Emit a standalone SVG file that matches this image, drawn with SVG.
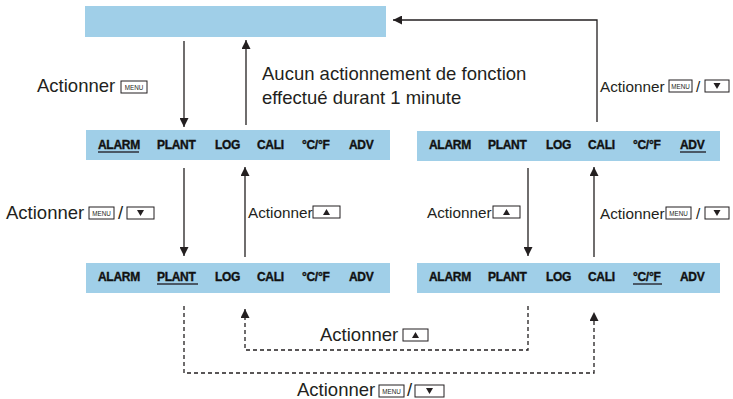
<svg xmlns="http://www.w3.org/2000/svg" width="733" height="399" viewBox="0 0 733 399">
<defs>
<style>
.bar{fill:#a0cfe8}
.m{font-family:"Liberation Sans",Arial,sans-serif;font-weight:bold;font-size:12px;letter-spacing:-0.3px;fill:#111;stroke:#111;stroke-width:0.35}
.ul{stroke:#4a5866;stroke-width:2}
.c{stroke:#231f20;stroke-width:1.3;fill:none}
.d{stroke:#231f20;stroke-width:1.3;fill:none;stroke-dasharray:4 3}
.t{font-family:"Liberation Sans",Arial,sans-serif;fill:#231f20}
.L{font-size:18.5px}
.S{font-size:15.3px}
.btn{fill:#fff;stroke:#231f20;stroke-width:1}
.mn{font-family:"Liberation Sans",Arial,sans-serif;font-size:6.3px;fill:#231f20}
.tri{fill:#231f20}
</style>
<marker id="ah" viewBox="0 0 10 10" refX="10" refY="5" markerWidth="9" markerHeight="9" markerUnits="userSpaceOnUse" orient="auto">
<path d="M0,0 L10,5 L0,10 z" fill="#231f20"/>
</marker>
</defs>
<rect width="733" height="399" fill="#fff"/>

<g id="top-display">
<rect class="bar" x="85" y="6" width="301" height="31"/>
</g>

<g id="menu-alarm">
<rect class="bar" x="86" y="130" width="304" height="30"/>
<text class="m" x="98" y="149">ALARM</text><text class="m" x="157" y="149">PLANT</text><text class="m" x="215" y="149">LOG</text><text class="m" x="257" y="149">CALI</text><text class="m" x="302" y="149">°C/°F</text><text class="m" x="349" y="149">ADV</text>
<line class="ul" x1="98" y1="152" x2="139" y2="152"/>
</g>

<g id="menu-adv">
<rect class="bar" x="417" y="131" width="303" height="30"/>
<text class="m" x="429" y="149">ALARM</text><text class="m" x="488" y="149">PLANT</text><text class="m" x="546" y="149">LOG</text><text class="m" x="588" y="149">CALI</text><text class="m" x="633" y="149">°C/°F</text><text class="m" x="680" y="149">ADV</text>
<line class="ul" x1="680" y1="152" x2="706" y2="152"/>
</g>

<g id="menu-plant">
<rect class="bar" x="86" y="263" width="304" height="30"/>
<text class="m" x="98" y="281">ALARM</text><text class="m" x="157" y="281">PLANT</text><text class="m" x="215" y="281">LOG</text><text class="m" x="257" y="281">CALI</text><text class="m" x="302" y="281">°C/°F</text><text class="m" x="349" y="281">ADV</text>
<line class="ul" x1="157" y1="284" x2="198" y2="284"/>
</g>

<g id="menu-cf">
<rect class="bar" x="417" y="263" width="303" height="30"/>
<text class="m" x="429" y="281">ALARM</text><text class="m" x="488" y="281">PLANT</text><text class="m" x="546" y="281">LOG</text><text class="m" x="588" y="281">CALI</text><text class="m" x="633" y="281">°C/°F</text><text class="m" x="680" y="281">ADV</text>
<line class="ul" x1="633" y1="284" x2="662" y2="284"/>
</g>

<g id="connectors">
<line class="c" x1="184" y1="41" x2="184" y2="127" marker-end="url(#ah)"/>
<line class="c" x1="246" y1="125" x2="246" y2="40" marker-end="url(#ah)"/>
<line class="c" x1="184" y1="168" x2="184" y2="256" marker-end="url(#ah)"/>
<line class="c" x1="245" y1="257" x2="245" y2="167" marker-end="url(#ah)"/>
<line class="c" x1="528" y1="168" x2="528" y2="256" marker-end="url(#ah)"/>
<line class="c" x1="594" y1="257" x2="594" y2="167" marker-end="url(#ah)"/>
<polyline class="c" points="597,122 597,20 393,20" marker-end="url(#ah)"/>
<polyline class="d" points="184,306 184,373 594,373 594,312" marker-end="url(#ah)"/>
<polyline class="d" points="528,306 528,350 245,350 245,309" marker-end="url(#ah)"/>
</g>

<g id="labels">
<text class="t L" x="37" y="92">Actionner</text>
<rect class="btn" x="121" y="81" width="26" height="12"/><text class="mn" x="134" y="89.5" text-anchor="middle">MENU</text>

<text class="t L" x="262" y="80">Aucun actionnement de fonction</text>
<text class="t L" x="262" y="104">effectué durant 1 minute</text>

<text class="t S" x="600" y="92">Actionner</text>
<rect class="btn" x="669" y="80" width="23" height="12"/><text class="mn" x="680.5" y="88.5" text-anchor="middle">MENU</text>
<text class="t S" x="696" y="92">/</text>
<rect class="btn" x="705" y="80" width="24" height="12"/><path class="tri" d="M713.5,83 h7 l-3.5,6 z"/>

<text class="t L" x="6" y="219">Actionner</text>
<rect class="btn" x="89" y="207" width="25" height="12"/><text class="mn" x="101.5" y="215.5" text-anchor="middle">MENU</text>
<text class="t L" x="118" y="219">/</text>
<rect class="btn" x="127" y="207" width="27" height="12"/><path class="tri" d="M137,210 h7 l-3.5,6 z"/>

<text class="t S" x="248" y="218">Actionner</text>
<rect class="btn" x="313" y="206" width="27" height="12"/><path class="tri" d="M323,215 h7 l-3.5,-6 z"/>

<text class="t S" x="427" y="218">Actionner</text>
<rect class="btn" x="493" y="206" width="27" height="12"/><path class="tri" d="M503,215 h7 l-3.5,-6 z"/>

<text class="t S" x="600" y="219">Actionner</text>
<rect class="btn" x="666" y="207" width="25" height="12"/><text class="mn" x="678.5" y="215.5" text-anchor="middle">MENU</text>
<text class="t S" x="696" y="219">/</text>
<rect class="btn" x="705" y="207" width="24" height="12"/><path class="tri" d="M713.5,210 h7 l-3.5,6 z"/>

<text class="t L" x="320" y="341">Actionner</text>
<rect class="btn" x="403" y="329" width="25" height="12"/><path class="tri" d="M412,338 h7 l-3.5,-6 z"/>

<text class="t L" x="297" y="396">Actionner</text>
<rect class="btn" x="379" y="385" width="25" height="12"/><text class="mn" x="391.5" y="393.5" text-anchor="middle">MENU</text>
<text class="t L" x="407" y="396">/</text>
<rect class="btn" x="415" y="385" width="29" height="12"/><path class="tri" d="M426,388 h7 l-3.5,6 z"/>
</g>
</svg>
